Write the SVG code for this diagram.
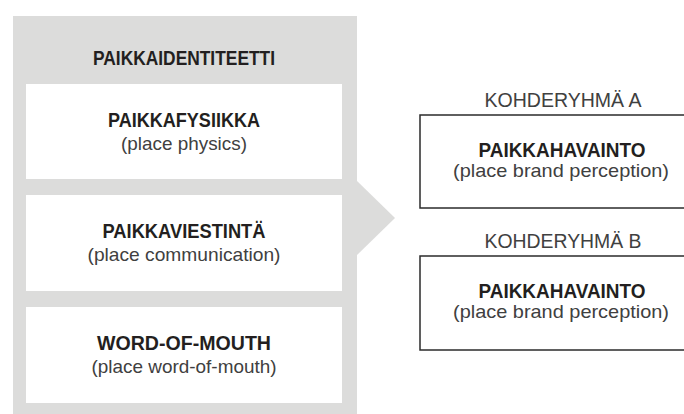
<svg xmlns="http://www.w3.org/2000/svg" width="684" height="414" viewBox="0 0 684 414">
<style>
.panel{fill:#dcdcdb}
.box{fill:#ffffff}
.obox{fill:#ffffff;stroke:#2b2b2b;stroke-width:1.5}
.t{font-family:"Liberation Sans",Arial,sans-serif;font-weight:bold;font-size:20px;fill:#231f20;text-anchor:middle}
.h{font-family:"Liberation Sans",Arial,sans-serif;font-weight:bold;font-size:19.5px;fill:#231f20;text-anchor:middle}
.s{font-family:"Liberation Sans",Arial,sans-serif;font-size:19px;fill:#404040;text-anchor:middle}
.g{font-family:"Liberation Sans",Arial,sans-serif;font-size:19.5px;fill:#404040;text-anchor:middle}
</style>
<rect width="684" height="414" fill="#ffffff"/>
<g id="paikkaidentiteetti">
<rect class="panel" x="13" y="16" width="344" height="398"/>
<text class="h" x="184" y="65" textLength="182" lengthAdjust="spacingAndGlyphs">PAIKKAIDENTITEETTI</text>
</g>
<g id="connectors">
<polygon class="panel" points="356,180 395,218 356,256"/>
</g>
<g id="paikkafysiikka">
<rect class="box" x="26" y="84" width="316" height="95"/>
<text class="t" x="184" y="127" textLength="152" lengthAdjust="spacingAndGlyphs">PAIKKAFYSIIKKA</text>
<text class="s" x="184" y="150" textLength="126" lengthAdjust="spacingAndGlyphs">(place physics)</text>
</g>
<g id="paikkaviestinta">
<rect class="box" x="26" y="195" width="316" height="96"/>
<text class="t" x="184" y="238" textLength="163" lengthAdjust="spacingAndGlyphs">PAIKKAVIESTINTÄ</text>
<text class="s" x="184" y="261" textLength="193" lengthAdjust="spacingAndGlyphs">(place communication)</text>
</g>
<g id="word-of-mouth">
<rect class="box" x="26" y="307" width="316" height="96"/>
<text class="t" x="184" y="350" textLength="174" lengthAdjust="spacingAndGlyphs">WORD-OF-MOUTH</text>
<text class="s" x="184" y="373" textLength="185" lengthAdjust="spacingAndGlyphs">(place word-of-mouth)</text>
</g>
<g id="kohderyhma-a">
<text class="g" x="563" y="107" textLength="157" lengthAdjust="spacingAndGlyphs">KOHDERYHMÄ A</text>
<rect class="obox" x="420" y="115" width="300" height="93"/>
<text class="t" x="562" y="157" textLength="167" lengthAdjust="spacingAndGlyphs">PAIKKAHAVAINTO</text>
<text class="s" x="561" y="177" textLength="216" lengthAdjust="spacingAndGlyphs">(place brand perception)</text>
</g>
<g id="kohderyhma-b">
<text class="g" x="563" y="248" textLength="157" lengthAdjust="spacingAndGlyphs">KOHDERYHMÄ B</text>
<rect class="obox" x="420" y="256" width="300" height="94"/>
<text class="t" x="562" y="298" textLength="167" lengthAdjust="spacingAndGlyphs">PAIKKAHAVAINTO</text>
<text class="s" x="561" y="318" textLength="216" lengthAdjust="spacingAndGlyphs">(place brand perception)</text>
</g>
</svg>
